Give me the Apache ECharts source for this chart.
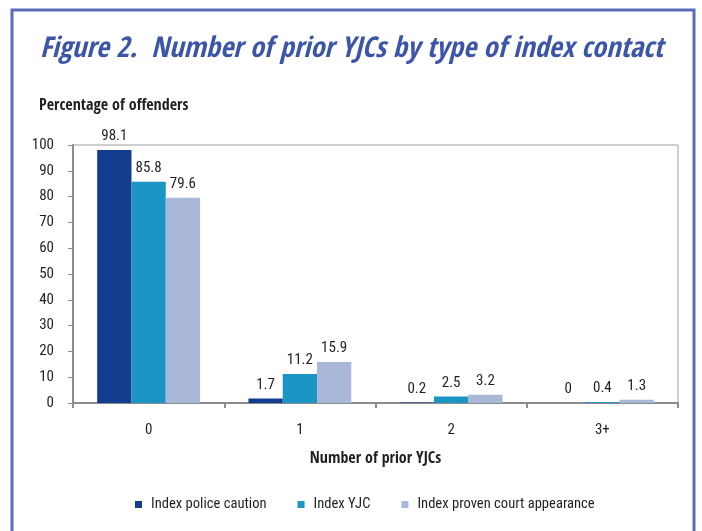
<!DOCTYPE html>
<html>
<head>
<meta charset="utf-8">
<script src="https://cdn.jsdelivr.net/npm/echarts@6/dist/echarts.min.js"></script>
<style>
  html, body { margin: 0; padding: 0; background: #fff; }
  #chart { width: 702px; height: 531px; }
</style>
</head>
<body>
<div id="chart"></div>
<script>
var categories = ['0', '1', '2', '3+'];
var policeCaution = [98.1, 1.7, 0.2, 0];
var indexYJC = [85.8, 11.2, 2.5, 0.4];
var courtAppearance = [79.6, 15.9, 3.2, 1.3];
var seriesNames = ['Index police caution', 'Index YJC', 'Index proven court appearance'];

var font = '"Roboto Condensed", "Open Sans Condensed", sans-serif';
var boldFont = '"Open Sans Condensed", "Roboto Condensed", sans-serif';
var textColor = '#231f20';

var chart = echarts.init(document.getElementById('chart'));

function makeSeries(name, data, color) {
  return {
    name: name,
    type: 'bar',
    data: data,
    barGap: '0%',
    barCategoryGap: '32%',
    itemStyle: { color: color },
    label: {
      show: true,
      position: 'top',
      distance: 6,
      color: textColor,
      fontFamily: font,
      fontSize: 15
    }
  };
}

var option = {
  backgroundColor: '#fff',
  animation: false,
  graphic: [{
    type: 'rect',
    shape: { x: 12, y: 10, width: 682, height: 530 },
    style: { fill: 'none', stroke: '#5a6cbd', lineWidth: 3 }
  }],
  title: [{
    text: 'Figure 2.  Number of prior YJCs by type of index contact',
    left: 35,
    top: 30,
    textStyle: {
      color: '#3c55a9',
      fontFamily: boldFont,
      fontStyle: 'italic',
      fontWeight: 'bold',
      fontSize: 28.6
    }
  }, {
    text: 'Percentage of offenders',
    left: 34,
    top: 93,
    textStyle: { color: textColor, fontFamily: boldFont, fontWeight: 'bold', fontSize: 16 }
  }],
  legend: {
    top: 492,
    left: 130,
    itemWidth: 7,
    itemHeight: 7,
    itemGap: 31,
    icon: 'rect',
    textStyle: { color: textColor, fontFamily: font, fontSize: 14.6, padding: [0, 0, 0, 4] },
    data: seriesNames
  },
  grid: {
    left: 73,
    right: 24,
    top: 145,
    bottom: 128,
    show: true,
    borderColor: '#a0a0a0',
    borderWidth: 1
  },
  xAxis: {
    type: 'category',
    data: categories,
    name: 'Number of prior YJCs',
    nameLocation: 'middle',
    nameGap: 48,
    nameTextStyle: { color: textColor, fontFamily: boldFont, fontWeight: 'bold', fontSize: 16 },
    axisLine: { lineStyle: { color: '#8c8c8c', width: 2 } },
    axisTick: { show: true, length: 5, lineStyle: { color: '#8c8c8c', width: 2 } },
    axisLabel: { color: textColor, fontFamily: font, fontSize: 15, margin: 20 }
  },
  yAxis: {
    type: 'value',
    min: 0,
    max: 100,
    interval: 10,
    axisLine: { show: true, lineStyle: { color: '#8c8c8c', width: 2 } },
    axisTick: { show: true, length: 5, lineStyle: { color: '#8c8c8c' } },
    axisLabel: { color: textColor, fontFamily: font, fontSize: 15, margin: 19 },
    splitLine: { show: false }
  },
  series: [
    makeSeries(seriesNames[0], policeCaution, '#133c8e'),
    makeSeries(seriesNames[1], indexYJC, '#1b95c3'),
    makeSeries(seriesNames[2], courtAppearance, '#a9b8d9')
  ]
};

chart.setOption(option);
</script>
</body>
</html>
